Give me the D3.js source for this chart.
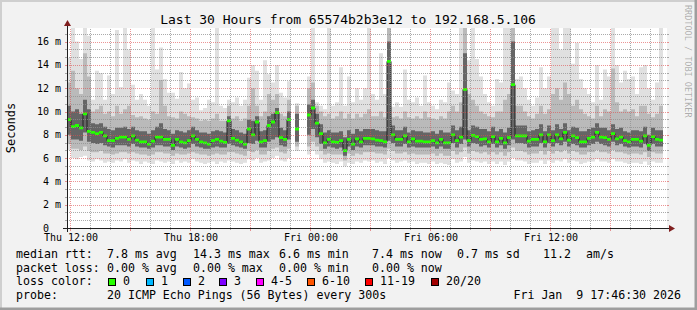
<!DOCTYPE html>
<html>
<head>
<meta charset="utf-8">
<script src="https://cdn.jsdelivr.net/npm/d3@7"></script>
<style>
  html, body { margin: 0; padding: 0; background: #f2f2f2; }
  svg { display: block; font-family: "DejaVu Sans Mono", monospace; }
  svg text { white-space: pre; }
</style>
</head>
<body>
<div id="chart"></div>
<script>
// smokeping: 30 hours, one step every 12 minutes, values in ms
const START = new Date(2026, 0, 8, 11, 51);
const END = new Date(2026, 0, 9, 17, 51);
const STEP_MIN = 12;

const median = [
  9.3, 8.7, 8.8, 8.6, 9.8, 8.3, 8.2, 8.1, 8.2, 7.9, 7.5, 7.5, 7.7, 7.8, 7.8, 7.6, 7.9, 7.55, 7.4, 7.4, 7.2, 7.45, 7.8, 7.8, 7.6,
  7.6, 7.1, 7.6, 7.4, 7.3, 7.5, 7.9, 7.6, 7.4, 7.3, 7.2, 7.5, 7.6, 7.45, 7.35, 9.2, 7.7, 7.55, 7.4, 7.2, 8.5, 8.0, 9.1, 7.4, 7.5,
  8.8, 9.1, 9.9, 7.75, 7.6, 9.3, null, 8.5, null, null, 9.7, 10.3, 9.0, 8.1, 7.3, 7.6, 7.4, 7.35, 7.5, 6.64, 7.6, 7.2, 7.65, 7.4, 7.7,
  7.7, 7.65, 7.55, 7.5, 7.4, 14.3, 8.0, 7.6, 7.6, 7.9, 7.4, 7.65, 7.45, 7.45, 7.4, 7.4, 7.5, 7.3, 7.6, 7.3, 7.3, 8.0, 7.5, 7.8, 11.9,
  7.5, 7.95, 7.85, 7.6, 7.65, 7.4, 7.85, 7.4, 7.7, 7.3, 7.75, 12.3, 7.9, 7.9, 7.9, 7.45, 7.6, 7.6, 8.0, 7.4, 8.0, 7.5, 8.0, 7.65, 8.2,
  7.55, 7.9, 7.75, 7.4, 7.4, 7.7, 7.8, 8.2, 7.8, 7.75, 7.6, 8.1, 7.65, 7.8, 7.5, 7.4, 7.6, 7.6, 7.45, 7.9, 7.1, 7.85, 7.6, 7.55, null
];

// highest ping of each step
const pingMax = [
  14.6, 17.2, 16.0, 14.5, 17.2, 16.5, 11.0, 13.5, 13.3, 11.0, 13.1, 11.5, 17.0, 12.1, 17.2, 15.3, 12.3, 11.0, 11.5, 11.0, 10.5, 17.2, 13.6, 15.5, 12.8,
  11.6, 11.6, 11.1, 13.4, 12.0, 12.4, 11.0, 11.2, 10.1, 10.3, 11.0, 10.8, 17.2, 10.5, 10.3, 11.0, 10.8, 11.2, 10.5, 11.0, 12.9, 14.0, 13.5, 11.0, 14.4,
  13.2, 12.5, 14.0, 11.6, 11.2, 12.6, null, 10.7, null, null, 13.0, 17.2, 10.8, 10.5, 10.2, 17.2, 10.5, 10.8, 13.8, 10.5, 13.0, 10.8, 12.0, 11.0, 12.0,
  17.2, 11.5, 11.0, 15.0, 11.5, 17.2, 10.4, 10.8, 10.4, 13.6, 11.0, 10.8, 11.2, 10.5, 13.1, 10.8, 10.5, 10.2, 11.0, 10.8, 12.5, 11.8, 11.5, 17.2, 17.2,
  14.4, 17.2, 14.5, 13.0, 11.5, 10.8, 10.5, 12.8, 12.5, 17.2, 17.2, 17.2, 12.8, 13.0, 12.0, 11.0, 10.5, 11.2, 13.8, 12.0, 13.0, 17.2, 17.2, 15.3, 17.2,
  17.2, 14.1, 15.9, 12.8, 12.0, 11.5, 10.8, 14.0, 11.0, 13.6, 13.0, 17.2, 14.0, 12.5, 13.5, 12.8, 13.0, 11.5, 13.8, 14.0, 12.0, 11.0, 12.5, 17.2, null
];

// upper edge of the mid smoke
const pingHigh = [
  12.5, 13.5, 12.0, 11.5, 15.0, 13.0, 10.0, 10.2, 10.5, 9.8, 10.0, 9.6, 10.5, 9.8, 10.2, 10.5, 9.7, 9.5, 9.6, 9.4, 9.3, 10.0, 9.8, 12.7, 10.5,
  9.6, 9.5, 9.4, 10.0, 9.8, 9.6, 9.5, 9.4, 9.2, 9.3, 9.2, 9.4, 9.8, 9.2, 9.2, 10.5, 9.4, 9.6, 9.2, 9.4, 10.5, 12.0, 10.5, 9.6, 10.0,
  11.5, 11.0, 11.5, 9.8, 9.6, 11.0, null, 10.5, null, null, 12.0, 12.5, 10.5, 10.0, 9.6, 9.8, 9.4, 9.6, 10.0, 9.4, 9.8, 9.4, 9.8, 9.5, 9.8,
  10.2, 9.6, 9.6, 10.0, 9.5, 17.2, 9.5, 9.6, 9.4, 10.0, 9.5, 9.4, 9.6, 9.4, 10.0, 9.5, 9.4, 9.3, 9.6, 9.4, 10.0, 10.5, 10.0, 10.8, 17.2,
  11.5, 11.0, 10.5, 10.0, 9.8, 9.6, 9.5, 10.0, 10.0, 11.0, 11.5, 17.2, 10.5, 10.5, 10.0, 9.6, 9.4, 9.8, 10.5, 9.8, 10.2, 11.5, 12.0, 11.0, 12.5,
  11.5, 10.5, 11.0, 10.2, 9.8, 9.6, 9.4, 10.5, 9.6, 10.2, 10.0, 13.7, 10.8, 10.0, 10.2, 10.0, 10.2, 9.6, 10.5, 10.5, 9.8, 9.5, 9.8, 10.5, null
];

// upper edge of the dark core
const coreHigh = [
  10.5, 10.0, 10.2, 9.8, 11.0, 10.2, 9.0, 8.9, 9.0, 8.7, 8.5, 8.4, 8.6, 8.6, 8.7, 8.5, 8.7, 8.4, 8.3, 8.3, 8.1, 8.4, 8.7, 9.0, 8.5,
  8.4, 8.1, 8.4, 8.3, 8.2, 8.4, 8.7, 8.4, 8.2, 8.2, 8.1, 8.3, 8.4, 8.3, 8.2, 9.6, 8.5, 8.4, 8.2, 8.1, 9.3, 9.2, 9.6, 8.3, 8.4,
  9.6, 9.8, 10.3, 8.6, 8.4, 10.0, null, 9.8, null, null, 10.6, 11.0, 9.8, 8.9, 8.2, 8.4, 8.2, 8.2, 8.3, 7.8, 8.4, 8.1, 8.5, 8.3, 8.5,
  8.5, 8.5, 8.4, 8.3, 8.3, 16.0, 8.8, 8.4, 8.4, 8.7, 8.2, 8.4, 8.3, 8.3, 8.2, 8.2, 8.3, 8.1, 8.4, 8.2, 8.2, 8.8, 8.4, 8.7, 15.0,
  8.4, 8.8, 8.7, 8.5, 8.5, 8.3, 8.7, 8.3, 8.5, 8.2, 8.6, 16.0, 8.8, 8.8, 8.8, 8.3, 8.4, 8.5, 8.9, 8.3, 8.8, 8.4, 8.9, 8.5, 9.0,
  8.4, 8.7, 8.6, 8.3, 8.3, 8.5, 8.6, 9.0, 8.6, 8.6, 8.4, 8.9, 8.5, 8.6, 8.3, 8.2, 8.4, 8.4, 8.3, 8.7, 8.0, 8.6, 8.4, 8.4, null
];

// lower edge of the dark core
const coreLow = [
  8.0, 7.6, 7.6, 7.5, 8.2, 7.4, 7.3, 7.2, 7.3, 7.1, 7.0, 6.9, 7.1, 7.1, 7.1, 7.0, 7.2, 7.0, 6.9, 6.9, 6.8, 6.9, 7.1, 7.1, 7.0,
  7.0, 6.7, 7.0, 6.9, 6.8, 6.9, 7.2, 7.0, 6.9, 6.8, 6.8, 6.9, 7.0, 6.9, 6.9, 7.2, 7.1, 7.0, 6.9, 6.8, 7.3, 7.2, 7.5, 6.9, 6.9,
  7.4, 7.6, 7.8, 7.1, 7.0, 7.6, null, 7.4, null, null, 8.0, 8.5, 7.8, 7.2, 6.8, 7.0, 6.9, 6.8, 6.9, 6.2, 7.0, 6.7, 7.0, 6.9, 7.1,
  7.1, 7.1, 7.0, 7.0, 6.9, 7.5, 7.3, 7.0, 7.0, 7.2, 6.9, 7.0, 6.9, 6.9, 6.9, 6.9, 7.0, 6.8, 7.0, 6.8, 6.8, 7.3, 6.9, 7.2, 7.6,
  7.0, 7.3, 7.2, 7.0, 7.1, 6.9, 7.2, 6.9, 7.1, 6.8, 7.1, 7.6, 7.3, 7.3, 7.2, 6.9, 7.0, 7.0, 7.3, 6.9, 7.3, 7.0, 7.3, 7.1, 7.4,
  7.0, 7.2, 7.1, 6.9, 6.9, 7.1, 7.2, 7.4, 7.2, 7.1, 7.0, 7.4, 7.1, 7.2, 7.0, 6.9, 7.0, 7.0, 6.9, 7.2, 6.6, 7.2, 7.0, 7.0, null
];

// lower edge of the mid smoke
const pingLow = [
  7.2, 6.8, 6.8, 6.7, 7.0, 6.6, 6.5, 6.5, 6.6, 6.4, 6.4, 6.3, 6.4, 6.5, 6.5, 6.4, 6.5, 6.4, 6.3, 6.3, 6.2, 6.3, 6.5, 6.5, 6.4,
  6.4, 6.2, 6.4, 6.3, 6.3, 6.4, 6.5, 6.4, 6.3, 6.3, 6.2, 6.3, 6.4, 6.3, 6.3, 6.5, 6.5, 6.4, 6.3, 6.2, 6.6, 6.5, 6.7, 6.3, 6.3,
  6.6, 6.8, 6.9, 6.5, 6.4, 6.8, null, 7.0, null, null, 7.0, 7.4, 7.0, 6.6, 6.3, 6.4, 6.3, 6.3, 6.3, 5.8, 6.4, 6.2, 6.4, 6.3, 6.5,
  6.5, 6.5, 6.4, 6.4, 6.3, 6.8, 6.6, 6.4, 6.4, 6.5, 6.3, 6.4, 6.3, 6.3, 6.3, 6.3, 6.4, 6.2, 6.4, 6.2, 6.2, 6.6, 6.3, 6.5, 6.9,
  6.4, 6.6, 6.5, 6.4, 6.5, 6.3, 6.5, 6.3, 6.5, 6.2, 6.5, 6.9, 6.6, 6.6, 6.5, 6.3, 6.4, 6.4, 6.6, 6.3, 6.6, 6.4, 6.6, 6.5, 6.7,
  6.4, 6.6, 6.5, 6.3, 6.3, 6.5, 6.5, 6.7, 6.5, 6.5, 6.4, 6.7, 6.5, 6.5, 6.4, 6.3, 6.4, 6.4, 6.3, 6.5, 6.1, 6.5, 6.4, 6.4, null
];

// lowest ping of each step
const pingMin = [
  6.7, 6.0, 5.9, 6.1, 6.2, 5.8, 5.7, 5.9, 5.8, 5.6, 5.7, 5.6, 5.8, 5.7, 5.9, 5.6, 5.8, 5.7, 5.5, 5.7, 5.6, 5.5, 5.8, 5.7, 5.6,
  5.7, 5.5, 5.8, 5.6, 5.7, 5.6, 5.9, 5.7, 5.6, 5.5, 5.6, 5.7, 5.5, 5.7, 5.6, 5.8, 5.7, 5.6, 5.5, 5.6, 5.9, 5.8, 6.0, 5.6, 5.7,
  5.8, 6.0, 6.2, 5.8, 5.7, 6.0, null, 6.6, null, null, 6.3, 6.6, 6.3, 5.9, 5.6, 5.7, 5.6, 5.5, 5.7, 5.3, 5.6, 5.5, 5.7, 5.6, 5.8,
  5.7, 5.8, 5.6, 5.7, 5.5, 6.0, 5.8, 5.6, 5.7, 5.8, 5.6, 5.7, 5.5, 5.6, 5.6, 5.5, 5.7, 5.5, 5.6, 5.5, 5.4, 5.9, 5.6, 5.7, 6.1,
  5.6, 5.8, 5.7, 5.6, 5.7, 5.5, 5.7, 5.5, 5.7, 5.4, 5.7, 6.0, 5.8, 5.8, 5.7, 5.5, 5.6, 5.6, 5.8, 5.5, 5.8, 5.6, 5.8, 5.7, 5.9,
  5.6, 5.8, 5.7, 5.5, 5.6, 5.7, 5.7, 5.9, 5.7, 5.7, 5.6, 5.9, 5.7, 5.7, 5.6, 5.5, 5.6, 5.6, 5.5, 5.7, 5.4, 5.7, 5.6, 5.6, null
];

const LOSS_LABELS = ["0", "1", "2", "3", "4-5", "6-10", "11-19", "20/20"];
const LOSS_COLORS = ["#26ff00", "#00b8ff", "#0059ff", "#7e00ff", "#ff00ff", "#ff5500", "#ff0000", "#a10000"];
const LOSS_BOX_X = [108, 146, 183, 219, 256, 307, 365, 431];

const W = 697, H = 310;
const plot = { left: 67, right: 667, top: 28, bottom: 228 };

const svg = d3.select("#chart").append("svg").attr("width", W).attr("height", H);

// frame
svg.append("rect").attr("width", W).attr("height", H).attr("fill", "#f2f2f2");
svg.append("path").attr("d", `M0,${H} V0 H${W}`).attr("fill", "none").attr("stroke", "#cfcfcf").attr("stroke-width", 4);
svg.append("path").attr("d", `M0,${H} H${W} V0`).attr("fill", "none").attr("stroke", "#9e9e9e").attr("stroke-width", 5);

const x = d3.scaleTime().domain([START, END]).range([plot.left, plot.right]);
const y = d3.scaleLinear().domain([0, 200 / 11.65]).range([plot.bottom, plot.top]);

const tAt = i => new Date(START.getTime() + i * STEP_MIN * 60000);

svg.append("rect")
  .attr("x", plot.left).attr("y", plot.top)
  .attr("width", plot.right - plot.left).attr("height", plot.bottom - plot.top)
  .attr("fill", "#ffffff");

svg.append("clipPath").attr("id", "plotclip")
  .append("rect")
  .attr("x", plot.left).attr("y", plot.top)
  .attr("width", plot.right - plot.left).attr("height", plot.bottom - plot.top);

// each step becomes a flat run between two points, nulls break the path
function stepRows(lo, hi) {
  const rows = [];
  lo.forEach((v, i) => {
    const w = hi[i];
    if (v == null || w == null) { rows.push(null); return; }
    rows.push({ t: tAt(i), lo: v, hi: w }, { t: tAt(i + 1), lo: v, hi: w });
  });
  return rows;
}

const area = d3.area()
  .defined(d => d !== null)
  .x(d => x(d.t))
  .y0(d => y(d.lo))
  .y1(d => y(d.hi));

const g = svg.append("g").attr("clip-path", "url(#plotclip)");

g.append("path").attr("d", area(stepRows(pingMin, pingMax))).attr("fill", "#e0e0e0");
g.append("path").attr("d", area(stepRows(pingLow, pingHigh))).attr("fill", "#bababa");
g.append("path").attr("d", area(stepRows(coreLow, coreHigh))).attr("fill", "#656565");

// median line + loss coloured band
const medRows = stepRows(median, median);
g.append("path")
  .attr("d", d3.line().defined(d => d !== null).x(d => x(d.t)).y(d => y(d.lo))(medRows))
  .attr("fill", "none").attr("stroke", "#202020").attr("stroke-width", 1);

const band = d3.area()
  .defined(d => d !== null)
  .x(d => x(d.t))
  .y0(d => y(d.lo) + 1.4)
  .y1(d => y(d.lo) - 1.4);
g.append("path").attr("d", band(medRows)).attr("fill", LOSS_COLORS[0]);

// grid, drawn over the smoke like rrdtool does
const grid = svg.append("g");
const hourTicks = x.ticks(d3.timeHour.every(1));
hourTicks.forEach(t => {
  const px = Math.round(x(t)) + 0.5;
  const major = t.getHours() % 3 === 0;
  grid.append("line")
    .attr("x1", px).attr("x2", px).attr("y1", plot.bottom).attr("y2", plot.top)
    .attr("stroke", major ? "rgba(222,79,79,0.6)" : "rgba(143,143,143,0.75)")
    .attr("stroke-dasharray", "1,1");
  grid.append("line")
    .attr("x1", px).attr("x2", px).attr("y1", plot.bottom).attr("y2", plot.bottom + (major ? 3 : 2))
    .attr("stroke", major ? "rgba(222,79,79,0.6)" : "rgba(143,143,143,0.75)");
});

const yMinor = d3.range(1, 26).map(k => k * 2 / 3);
yMinor.forEach((v, k) => {
  const major = (k + 1) % 3 === 0;
  const py = Math.round(y(v)) + 0.5;
  const col = major ? "rgba(222,79,79,0.6)" : "rgba(143,143,143,0.75)";
  grid.append("line")
    .attr("x1", plot.left).attr("x2", plot.right).attr("y1", py).attr("y2", py)
    .attr("stroke", col).attr("stroke-dasharray", "1,1");
  grid.append("line")
    .attr("x1", plot.left - 2).attr("x2", plot.left).attr("y1", py).attr("y2", py).attr("stroke", col);
  grid.append("line")
    .attr("x1", plot.right).attr("x2", plot.right + 2).attr("y1", py).attr("y2", py).attr("stroke", col);
});

// axes with arrows
svg.append("line")
  .attr("x1", plot.left - 4).attr("x2", plot.right + 4)
  .attr("y1", plot.bottom + 0.5).attr("y2", plot.bottom + 0.5)
  .attr("stroke", "#1f1f1f");
svg.append("line")
  .attr("x1", plot.left + 0.5).attr("x2", plot.left + 0.5)
  .attr("y1", plot.bottom + 4).attr("y2", plot.top - 4)
  .attr("stroke", "#1f1f1f");
svg.append("path")
  .attr("d", `M${plot.right + 2},${plot.bottom - 3} L${plot.right + 2},${plot.bottom + 4} L${plot.right + 8},${plot.bottom + 0.5} Z`)
  .attr("fill", "#801f1f");
svg.append("path")
  .attr("d", `M${plot.left - 3},${plot.top - 2} L${plot.left + 4},${plot.top - 2} L${plot.left + 0.5},${plot.top - 8} Z`)
  .attr("fill", "#801f1f");

// axis labels
const fmt = d3.timeFormat("%a %H:%M");
x.ticks(d3.timeHour.every(6)).forEach(t => {
  svg.append("text")
    .attr("x", x(t) + 1).attr("y", 241)
    .attr("text-anchor", "middle")
    .style("font-size", "10px")
    .text(fmt(t));
});

d3.range(0, 17, 2).forEach(v => {
  svg.append("text")
    .attr("x", 61).attr("y", y(v) + 3.5)
    .attr("text-anchor", "end")
    .style("font-size", "10px")
    .text(v === 0 ? "0  " : `${v} m`);
});

svg.append("text")
  .attr("transform", "translate(15,128) rotate(-90)")
  .attr("text-anchor", "middle")
  .style("font-size", "12px")
  .text("Seconds");

svg.append("text")
  .attr("x", 348).attr("y", 24)
  .attr("text-anchor", "middle")
  .style("font-size", "13px")
  .text("Last 30 Hours from 65574b2b3e12 to 192.168.5.106");

svg.append("text")
  .attr("transform", "translate(685,5) rotate(90)")
  .style("font-size", "8.5px")
  .attr("fill", "#000").attr("fill-opacity", 0.3)
  .text("RRDTOOL / TOBI OETIKER");

// legend
const legend = svg.append("g").style("font-size", "11.6px");
const row = (yy, items) => items.forEach(([xx, s]) =>
  legend.append("text").attr("x", xx).attr("y", yy).text(s));

row(258.3, [[16, "median rtt:"], [107, "7.8 ms avg"], [193, "14.3 ms max"], [279, "6.6 ms min"],
            [372, "7.4 ms now"], [457, "0.7 ms sd"], [543, "11.2"], [586, "am/s"]]);
row(271.5, [[16, "packet loss:"], [107, "0.00 % avg"], [193, "0.00 % max"], [279, "0.00 % min"],
            [372, "0.00 % now"]]);
row(285, [[16, "loss color:"]]);
LOSS_LABELS.forEach((lab, i) => {
  legend.append("rect")
    .attr("x", LOSS_BOX_X[i] + 0.5).attr("y", 278.5)
    .attr("width", 7).attr("height", 7)
    .attr("fill", LOSS_COLORS[i]).attr("stroke", "#000");
  legend.append("text").attr("x", LOSS_BOX_X[i] + 15).attr("y", 285).text(lab);
});
row(298.7, [[16, "probe:"], [107, "20 ICMP Echo Pings (56 Bytes) every 300s"]]);
legend.append("text").attr("x", 681).attr("y", 298.7).attr("text-anchor", "end")
  .text("Fri Jan  9 17:46:30 2026");
</script>
</body>
</html>
